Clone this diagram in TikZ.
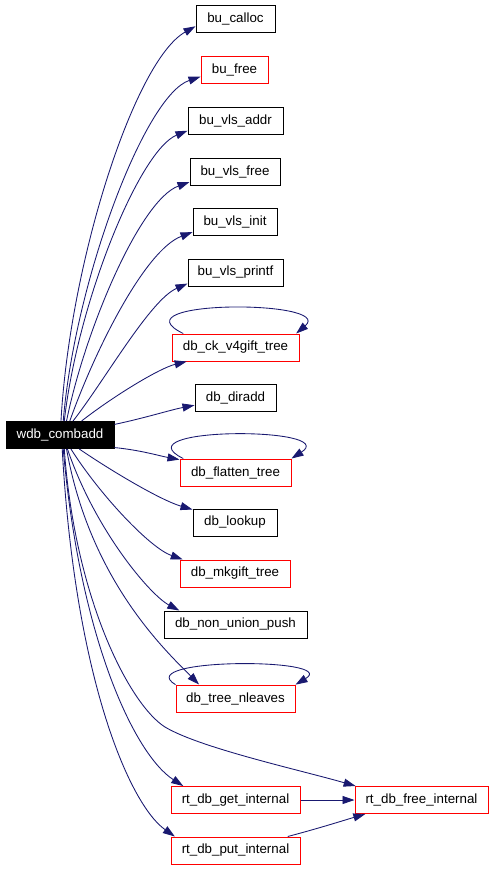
\documentclass[tikz,border=0pt]{standalone}
\usepackage{fontspec}
\setmainfont{Liberation Sans}
\usetikzlibrary{arrows.meta}
\definecolor{Navy}{HTML}{191970}
\definecolor{BoxRed}{HTML}{FF0000}

\begin{document}
\begin{tikzpicture}[x=0.75pt,y=-0.75pt,
    fn/.style={draw=black,line width=0.75pt,minimum height=20.25pt,inner sep=0pt,
      font=\fontsize{10}{12}\selectfont},
    fnred/.style={fn,draw=BoxRed},
    call/.style={draw=Navy,line width=0.65pt,-{Triangle[length=9pt,width=6pt]}}]
    \useasboundingbox (0,0) rectangle (493,869);

    \node[fn,fill=black,text=white,minimum width=81pt] (combadd) at (60,435) {wdb\_combadd};

    \node[fn,minimum width=59.25pt] (calloc) at (235.5,18.5) {bu\_calloc};
    \node[fnred,minimum width=50.25pt] (free) at (234.5,69.5) {bu\_free};
    \node[fn,minimum width=71.25pt] (vlsaddr) at (235.5,120.5) {bu\_vls\_addr};
    \node[fn,minimum width=67.5pt] (vlsfree) at (235,171.5) {bu\_vls\_free};
    \node[fn,minimum width=63pt] (vlsinit) at (235,221.5) {bu\_vls\_init};
    \node[fn,minimum width=71.25pt] (vlsprintf) at (235.5,272.5) {bu\_vls\_printf};
    \node[fnred,minimum width=95.25pt] (ckgift) at (235.5,347.5) {db\_ck\_v4gift\_tree};
    \node[fn,minimum width=60.75pt] (diradd) at (235.5,398) {db\_diradd};
    \node[fnred,minimum width=83.25pt] (flatten) at (235.5,472.5) {db\_flatten\_tree};
    \node[fn,minimum width=63pt] (lookup) at (235,522.5) {db\_lookup};
    \node[fnred,minimum width=82.5pt] (mkgift) at (235,573.5) {db\_mkgift\_tree};
    \node[fn,minimum width=107.25pt] (nonunion) at (235.5,624.5) {db\_non\_union\_push};
    \node[fnred,minimum width=89.25pt] (nleaves) at (235.5,698.5) {db\_tree\_nleaves};
    \node[fnred,minimum width=96.75pt] (getint) at (235.5,800) {rt\_db\_get\_internal};
    \node[fnred,minimum width=96.75pt] (putint) at (235.5,850.5) {rt\_db\_put\_internal};
    \node[fnred,minimum width=99.75pt] (freeint) at (421.5,800) {rt\_db\_free\_internal};

    \foreach \t/\a/\b/\p/\q in {
        calloc/86/191/{70,260}/{135,60},
        free/77/192/{75,280}/{145,95},
        vlsaddr/73/192.5/{78,300}/{140,150},
        vlsfree/65/193/{85,330}/{140,200},
        vlsinit/55/194/{95,350}/{145,250},
        vlsprintf/47/193/{105,380}/{150,300},
        ckgift/33/196.5/{115,395}/{160,368},
        diradd/11.5/190/{145,418}/{170,410},
        flatten/347.5/167/{140,450}/{160,456},
        lookup/324/163/{110,470}/{160,500},
        mkgift/308/165/{100,495}/{150,548},
        nonunion/298/166/{95,530}/{150,595},
        nleaves/295/159/{90,580}/{165,650},
        getint/283/165/{80,640}/{135,755},
        putint/279/167/{75,680}/{130,805}}
      \draw[call] (combadd.\a) .. controls (\p) and (\q) .. (\t.\b);

    \draw[call] (combadd.287) .. controls (75,600) and (130,705) .. (165,727)
      .. controls (200,748) and (300,770) .. (freeint.168);

    % recursive calls
    \draw[call] (ckgift.165) .. controls +(-70,-34) and +(40,-34) .. (ckgift.13);
    \draw[call] (flatten.165) .. controls +(-65,-32) and +(50,-32) .. (flatten.north east);
    \draw[call] (nleaves.167) .. controls +(-45,-27) and +(45,-27) .. (nleaves.13);

    \draw[call] (getint) -- (freeint);
    \draw[call] (putint.15) .. controls (320,828) and (345,820) .. (freeint.194);
  \end{tikzpicture}
\end{document}
